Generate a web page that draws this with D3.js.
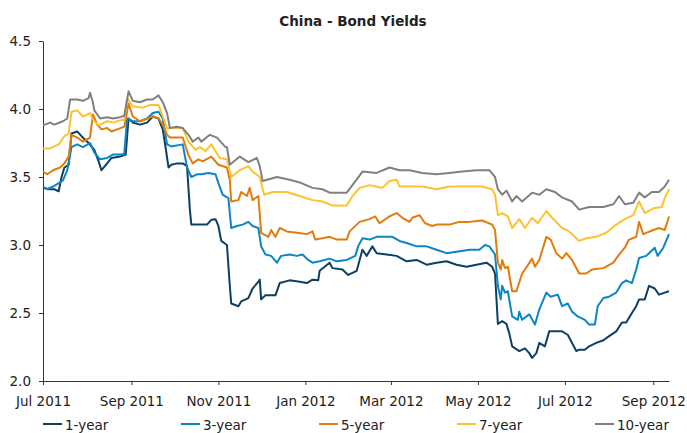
<!DOCTYPE html>
<html>
<head>
<meta charset="utf-8">
<script src="https://cdn.jsdelivr.net/npm/d3@7"></script>
<style>
  body { margin: 0; background: #fff; }
  svg text { font-family: "DejaVu Sans", Verdana, sans-serif; fill: #222; }
</style>
</head>
<body>
<div id="chart"></div>
<script>
// series names (legend order)
var seriesNames = ["1-year", "3-year", "5-year", "7-year", "10-year"];

// y axis tick labels
var yTicks = [2.0, 2.5, 3.0, 3.5, 4.0, 4.5];

// 1-year
var dates1y = ["2011-07-01","2011-07-05","2011-07-09","2011-07-12","2011-07-14","2011-07-16","2011-07-19","2011-07-21","2011-07-25","2011-07-28","2011-08-02","2011-08-06","2011-08-09","2011-08-11","2011-08-15","2011-08-18","2011-08-24","2011-08-28","2011-08-30","2011-09-02","2011-09-07","2011-09-12","2011-09-16","2011-09-20","2011-09-23","2011-09-25","2011-09-27","2011-09-29","2011-10-03","2011-10-07","2011-10-10","2011-10-12","2011-10-13","2011-10-24","2011-10-27","2011-10-30","2011-11-01","2011-11-03","2011-11-07","2011-11-09","2011-11-10","2011-11-15","2011-11-17","2011-11-22","2011-11-25","2011-11-29","2011-11-30","2011-12-01","2011-12-04","2011-12-11","2011-12-14","2011-12-21","2011-12-28","2012-01-02","2012-01-06","2012-01-10","2012-01-11","2012-01-18","2012-01-20","2012-01-27","2012-01-31","2012-02-06","2012-02-10","2012-02-13","2012-02-17","2012-02-20","2012-02-27","2012-03-05","2012-03-12","2012-03-19","2012-03-26","2012-04-02","2012-04-09","2012-04-16","2012-04-23","2012-04-30","2012-05-07","2012-05-11","2012-05-13","2012-05-15","2012-05-18","2012-05-21","2012-05-23","2012-05-25","2012-05-30","2012-06-03","2012-06-06","2012-06-08","2012-06-11","2012-06-13","2012-06-17","2012-06-20","2012-06-25","2012-06-29","2012-07-03","2012-07-06","2012-07-09","2012-07-11","2012-07-15","2012-07-18","2012-07-23","2012-07-28","2012-08-01","2012-08-06","2012-08-10","2012-08-13","2012-08-17","2012-08-20","2012-08-22","2012-08-26","2012-08-29","2012-09-02","2012-09-05","2012-09-09","2012-09-12"];
var yld1y = [3.42,3.41,3.41,3.395,3.50,3.57,3.59,3.82,3.835,3.80,3.75,3.70,3.615,3.55,3.60,3.64,3.65,3.665,3.93,3.90,3.885,3.90,3.945,3.93,3.85,3.715,3.57,3.59,3.60,3.60,3.58,3.26,3.15,3.15,3.185,3.19,3.14,3.03,3.00,2.70,2.57,2.55,2.585,2.61,2.68,2.73,2.745,2.60,2.63,2.63,2.72,2.74,2.73,2.72,2.745,2.74,2.81,2.87,2.83,2.82,2.78,2.81,2.965,2.92,2.99,2.94,2.93,2.92,2.88,2.89,2.855,2.87,2.88,2.855,2.84,2.855,2.87,2.84,2.79,2.42,2.44,2.42,2.35,2.255,2.22,2.24,2.205,2.17,2.205,2.28,2.255,2.365,2.365,2.365,2.34,2.28,2.22,2.23,2.23,2.255,2.28,2.30,2.33,2.365,2.43,2.43,2.50,2.55,2.60,2.60,2.70,2.68,2.635,2.65,2.66];

// 3-year
var dates3y = ["2011-07-01","2011-07-04","2011-07-08","2011-07-12","2011-07-15","2011-07-18","2011-07-21","2011-07-25","2011-07-29","2011-08-03","2011-08-06","2011-08-10","2011-08-15","2011-08-19","2011-08-25","2011-08-27","2011-08-29","2011-09-02","2011-09-07","2011-09-12","2011-09-16","2011-09-20","2011-09-23","2011-09-26","2011-09-29","2011-10-07","2011-10-10","2011-10-13","2011-10-17","2011-10-20","2011-10-25","2011-10-30","2011-11-01","2011-11-04","2011-11-08","2011-11-10","2011-11-14","2011-11-18","2011-11-22","2011-11-25","2011-11-29","2011-12-01","2011-12-04","2011-12-08","2011-12-12","2011-12-15","2011-12-21","2011-12-26","2011-12-30","2012-01-03","2012-01-06","2012-01-11","2012-01-18","2012-01-23","2012-01-30","2012-02-05","2012-02-07","2012-02-10","2012-02-15","2012-02-20","2012-02-27","2012-03-02","2012-03-07","2012-03-12","2012-03-19","2012-03-26","2012-04-02","2012-04-09","2012-04-16","2012-04-25","2012-05-02","2012-05-06","2012-05-09","2012-05-13","2012-05-15","2012-05-17","2012-05-18","2012-05-20","2012-05-22","2012-05-25","2012-05-29","2012-05-30","2012-06-01","2012-06-06","2012-06-10","2012-06-13","2012-06-18","2012-06-21","2012-06-26","2012-06-29","2012-07-03","2012-07-06","2012-07-10","2012-07-15","2012-07-18","2012-07-22","2012-07-24","2012-07-28","2012-08-01","2012-08-06","2012-08-10","2012-08-13","2012-08-17","2012-08-20","2012-08-22","2012-08-27","2012-08-29","2012-09-02","2012-09-04","2012-09-08","2012-09-12"];
var yld3y = [3.43,3.41,3.43,3.455,3.475,3.55,3.72,3.74,3.72,3.75,3.68,3.63,3.64,3.665,3.665,3.67,3.93,3.91,3.91,3.93,3.97,3.98,3.93,3.74,3.725,3.74,3.57,3.50,3.52,3.52,3.53,3.52,3.455,3.37,3.345,3.125,3.14,3.15,3.17,3.14,3.125,2.99,2.93,2.92,2.87,2.92,2.93,2.92,2.93,2.89,2.87,2.88,2.90,2.88,2.89,2.92,2.99,3.05,3.04,3.06,3.06,3.06,3.03,3.015,2.99,2.99,2.965,2.94,2.95,2.965,2.965,3.00,2.99,2.93,2.70,2.60,2.70,2.65,2.66,2.475,2.45,2.51,2.45,2.49,2.415,2.525,2.65,2.62,2.635,2.55,2.57,2.51,2.475,2.45,2.415,2.415,2.55,2.61,2.62,2.65,2.72,2.74,2.72,2.82,2.905,2.92,2.94,2.98,2.92,2.98,3.08];

// 5-year
var dates5y = ["2011-07-01","2011-07-04","2011-07-08","2011-07-13","2011-07-16","2011-07-19","2011-07-21","2011-07-25","2011-07-29","2011-08-03","2011-08-05","2011-08-08","2011-08-11","2011-08-15","2011-08-18","2011-08-22","2011-08-27","2011-08-30","2011-09-02","2011-09-07","2011-09-12","2011-09-16","2011-09-20","2011-09-23","2011-09-26","2011-09-28","2011-10-07","2011-10-11","2011-10-14","2011-10-18","2011-10-21","2011-10-27","2011-11-01","2011-11-07","2011-11-09","2011-11-10","2011-11-15","2011-11-17","2011-11-21","2011-11-23","2011-11-25","2011-11-29","2011-12-01","2011-12-06","2011-12-08","2011-12-11","2011-12-14","2011-12-19","2011-12-26","2012-01-02","2012-01-06","2012-01-08","2012-01-13","2012-01-18","2012-01-23","2012-01-30","2012-02-01","2012-02-06","2012-02-08","2012-02-15","2012-02-19","2012-02-22","2012-02-29","2012-03-05","2012-03-09","2012-03-14","2012-03-16","2012-03-21","2012-03-25","2012-03-30","2012-04-02","2012-04-11","2012-04-18","2012-04-25","2012-05-04","2012-05-11","2012-05-13","2012-05-15","2012-05-17","2012-05-18","2012-05-20","2012-05-22","2012-05-25","2012-05-28","2012-06-01","2012-06-03","2012-06-08","2012-06-10","2012-06-13","2012-06-18","2012-06-21","2012-06-25","2012-06-29","2012-07-02","2012-07-06","2012-07-11","2012-07-16","2012-07-20","2012-07-28","2012-08-04","2012-08-08","2012-08-12","2012-08-15","2012-08-20","2012-08-22","2012-08-25","2012-09-01","2012-09-05","2012-09-09","2012-09-12"];
var yld5y = [3.54,3.52,3.55,3.57,3.60,3.65,3.81,3.79,3.76,3.79,3.96,3.885,3.85,3.86,3.835,3.85,3.87,4.04,3.945,3.91,3.93,3.945,3.93,3.885,3.81,3.79,3.79,3.66,3.60,3.63,3.615,3.65,3.59,3.57,3.48,3.32,3.33,3.39,3.36,3.42,3.33,3.36,3.09,3.06,3.11,3.06,3.125,3.10,3.09,3.08,3.10,3.04,3.05,3.06,3.04,3.04,3.10,3.15,3.17,3.19,3.21,3.16,3.21,3.235,3.20,3.17,3.20,3.22,3.16,3.14,3.15,3.15,3.17,3.17,3.18,3.15,3.11,2.87,2.82,2.89,2.83,2.84,2.66,2.66,2.79,2.82,2.90,2.84,2.89,3.06,3.04,2.94,2.90,2.94,2.89,2.79,2.79,2.82,2.83,2.87,2.93,2.98,3.04,3.06,3.17,3.08,3.11,3.125,3.11,3.21];

// 7-year
var dates7y = ["2011-07-01","2011-07-06","2011-07-12","2011-07-16","2011-07-19","2011-07-21","2011-07-25","2011-07-29","2011-08-03","2011-08-05","2011-08-09","2011-08-15","2011-08-19","2011-08-25","2011-08-27","2011-08-29","2011-09-02","2011-09-09","2011-09-14","2011-09-20","2011-09-23","2011-09-26","2011-10-07","2011-10-11","2011-10-16","2011-10-19","2011-10-23","2011-10-27","2011-11-02","2011-11-07","2011-11-10","2011-11-16","2011-11-22","2011-11-25","2011-11-30","2011-12-03","2011-12-09","2011-12-19","2011-12-28","2012-01-06","2012-01-13","2012-01-20","2012-01-30","2012-02-03","2012-02-08","2012-02-15","2012-02-24","2012-02-29","2012-03-05","2012-03-07","2012-03-14","2012-03-23","2012-04-02","2012-04-11","2012-04-23","2012-05-04","2012-05-11","2012-05-13","2012-05-15","2012-05-18","2012-05-22","2012-05-25","2012-05-30","2012-06-03","2012-06-08","2012-06-12","2012-06-18","2012-06-22","2012-06-29","2012-07-04","2012-07-11","2012-07-16","2012-07-23","2012-07-30","2012-08-06","2012-08-12","2012-08-18","2012-08-22","2012-08-26","2012-09-01","2012-09-07","2012-09-09","2012-09-12"];
var yld7y = [3.71,3.71,3.74,3.80,3.82,3.98,3.99,3.945,3.97,3.92,3.88,3.91,3.90,3.92,3.92,4.08,4.02,4.01,4.03,4.03,3.945,3.86,3.86,3.76,3.70,3.72,3.69,3.74,3.64,3.63,3.50,3.55,3.58,3.54,3.50,3.37,3.39,3.39,3.36,3.33,3.32,3.29,3.29,3.36,3.42,3.44,3.42,3.47,3.48,3.43,3.43,3.43,3.41,3.43,3.43,3.43,3.41,3.37,3.22,3.235,3.21,3.125,3.19,3.125,3.20,3.16,3.25,3.20,3.125,3.10,3.03,3.05,3.06,3.09,3.15,3.19,3.22,3.32,3.235,3.27,3.28,3.345,3.41];

// 10-year
var dates10y = ["2011-07-01","2011-07-06","2011-07-09","2011-07-15","2011-07-18","2011-07-20","2011-07-25","2011-07-29","2011-08-02","2011-08-03","2011-08-05","2011-08-06","2011-08-10","2011-08-15","2011-08-19","2011-08-24","2011-08-27","2011-08-30","2011-09-02","2011-09-07","2011-09-12","2011-09-16","2011-09-20","2011-09-23","2011-09-26","2011-09-28","2011-10-03","2011-10-07","2011-10-11","2011-10-14","2011-10-18","2011-10-20","2011-10-26","2011-10-31","2011-11-06","2011-11-07","2011-11-09","2011-11-16","2011-11-22","2011-11-28","2011-11-30","2011-12-02","2011-12-12","2011-12-21","2011-12-28","2012-01-06","2012-01-13","2012-01-18","2012-01-30","2012-02-03","2012-02-08","2012-02-10","2012-02-20","2012-02-29","2012-03-07","2012-03-14","2012-03-23","2012-04-02","2012-04-11","2012-04-20","2012-04-30","2012-05-09","2012-05-13","2012-05-15","2012-05-18","2012-05-21","2012-05-25","2012-05-28","2012-06-01","2012-06-08","2012-06-13","2012-06-18","2012-06-24","2012-06-29","2012-07-06","2012-07-11","2012-07-18","2012-07-28","2012-08-04","2012-08-08","2012-08-12","2012-08-18","2012-08-22","2012-08-26","2012-08-31","2012-09-05","2012-09-09","2012-09-12"];
var yld10y = [3.88,3.90,3.885,3.91,3.93,4.07,4.07,4.06,4.08,4.12,4.05,3.99,3.93,3.94,3.93,3.94,3.95,4.13,4.06,4.05,4.07,4.07,4.10,4.05,3.97,3.86,3.87,3.86,3.81,3.76,3.79,3.76,3.81,3.79,3.72,3.72,3.59,3.65,3.61,3.64,3.58,3.47,3.50,3.48,3.46,3.42,3.41,3.385,3.385,3.44,3.51,3.54,3.53,3.57,3.55,3.55,3.53,3.52,3.53,3.54,3.55,3.55,3.50,3.41,3.37,3.40,3.32,3.36,3.32,3.385,3.37,3.41,3.39,3.35,3.32,3.26,3.28,3.28,3.30,3.36,3.30,3.31,3.385,3.35,3.39,3.39,3.43,3.48];

var colors = ["#0d3f63", "#0a86c4", "#e37b0c", "#ffc22e", "#808080"];

var width = 687;
var height = 433;
var margin = { top: 41, right: 18, bottom: 52, left: 43 };

var parseDate = d3.timeParse("%Y-%m-%d");

// build one row list per series
var allDates = [dates1y, dates3y, dates5y, dates7y, dates10y];
var allVals = [yld1y, yld3y, yld5y, yld7y, yld10y];
var series = seriesNames.map(function (name, i) {
  return {
    name: name,
    color: colors[i],
    values: allDates[i].map(function (d, j) {
      return { date: parseDate(d), value: allVals[i][j] };
    })
  };
});

var x = d3.scaleTime()
  .domain([parseDate("2011-07-01"), parseDate("2012-09-12")])
  .range([margin.left, width - margin.right]);

var y = d3.scaleLinear()
  .domain([2, 4.5])
  .range([height - margin.bottom, margin.top]);

var svg = d3.select("#chart")
  .append("svg")
  .attr("width", width)
  .attr("height", height);

// title
svg.append("text")
  .attr("x", 353)
  .attr("y", 26)
  .attr("text-anchor", "middle")
  .style("font-size", "13.5px")
  .style("font-weight", "bold")
  .text("China - Bond Yields");

// axes
var xAxis = d3.axisBottom(x)
  .ticks(d3.timeMonth.every(2))
  .tickFormat(d3.timeFormat("%b %Y"))
  .tickSizeInner(4)
  .tickSizeOuter(0)
  .tickPadding(11);

var yAxis = d3.axisLeft(y)
  .tickValues(yTicks)
  .tickFormat(d3.format(".1f"))
  .tickSizeInner(4)
  .tickSizeOuter(0)
  .tickPadding(8);

var gx = svg.append("g")
  .attr("transform", "translate(0," + (height - margin.bottom) + ")")
  .call(xAxis);

var gy = svg.append("g")
  .attr("transform", "translate(" + margin.left + ",0)")
  .call(yAxis);

[gx, gy].forEach(function (g) {
  g.selectAll("path, line").attr("stroke", "#333").attr("stroke-width", 1);
  g.selectAll("text").style("font-size", "13.5px").attr("fill", "#222");
});

// lines
var line = d3.line()
  .x(function (d) { return x(d.date); })
  .y(function (d) { return y(d.value); });

svg.selectAll("path.series")
  .data(series)
  .enter()
  .append("path")
  .attr("class", "series")
  .attr("d", function (d) { return line(d.values); })
  .attr("fill", "none")
  .attr("stroke", function (d) { return d.color; })
  .attr("stroke-width", 2)
  .attr("stroke-linejoin", "round");

// legend
var legend = svg.selectAll("g.legend")
  .data(series)
  .enter()
  .append("g")
  .attr("class", "legend")
  .attr("transform", function (d, i) { return "translate(" + (43 + i * 138) + ",424)"; });

legend.append("line")
  .attr("x1", 0)
  .attr("x2", 19)
  .attr("stroke", function (d) { return d.color; })
  .attr("stroke-width", 2);

legend.append("text")
  .attr("x", 22)
  .attr("y", 6)
  .style("font-size", "13.5px")
  .text(function (d) { return d.name; });
</script>
</body>
</html>
